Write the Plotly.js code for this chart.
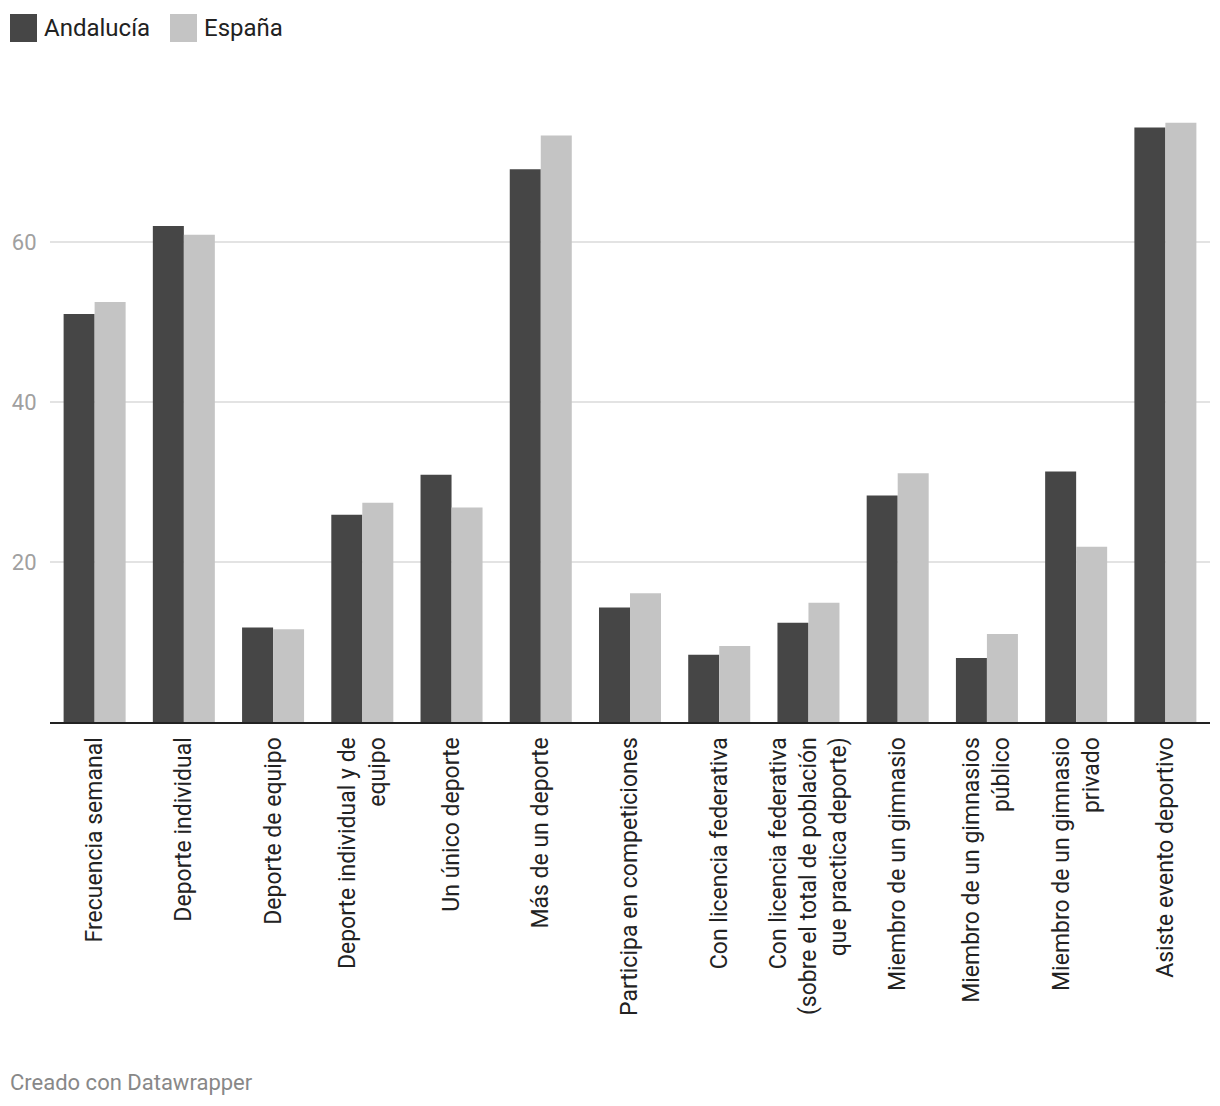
<!DOCTYPE html>
<html><head><meta charset="utf-8">
<script src="https://cdn.plot.ly/plotly-3.0.1.min.js"></script>
<style>html,body{margin:0;padding:0;background:#fff;}#chart{width:1220px;height:1106px;}</style>
</head><body><div id="chart"></div>
<script>
const categories = [
  "Frecuencia semanal",
  "Deporte individual",
  "Deporte de equipo",
  "Deporte individual y de<br>equipo",
  "Un único deporte",
  "Más de un deporte",
  "Participa en competiciones",
  "Con licencia federativa",
  "Con licencia federativa<br>(sobre el total de población<br>que practica deporte)",
  "Miembro de un gimnasio",
  "Miembro de un gimnasios<br>público",
  "Miembro de un gimnasio<br>privado",
  "Asiste evento deportivo"
];
const seriesNames = ["Andalucía", "España"];
const andalucia = [51.0, 62.0, 11.8, 25.9, 30.9, 69.1, 14.3, 8.4, 12.4, 28.3, 8.0, 31.3, 74.3];
const espana    = [52.5, 60.9, 11.6, 27.4, 26.8, 73.3, 16.1, 9.5, 14.9, 31.1, 11.0, 21.9, 74.9];
const yTicks = [20, 40, 60];
const colors = ["#464646", "#c4c4c4"];

const font = "Roboto, 'Noto Sans', sans-serif";
const traces = [andalucia, espana].map((vals, i) => ({
  type: "bar", x: categories, y: vals, name: seriesNames[i],
  marker: {color: colors[i]}, hoverinfo: "skip"
}));

const shapes = [], annotations = [];
const legendX = [10, 170];
seriesNames.forEach((n, i) => {
  shapes.push({type: "rect", xref: "paper", yref: "paper", layer: "above",
    x0: (legendX[i] - 50) / 1160, x1: (legendX[i] + 27 - 50) / 1160,
    y0: (722 - 42) / 640, y1: (722 - 14) / 640,
    fillcolor: colors[i], line: {width: 0}});
  annotations.push({xref: "paper", yref: "paper", x: (legendX[i] + 32 - 50) / 1160, y: (722 - 28) / 640,
    xanchor: "left", yanchor: "middle", showarrow: false, text: n,
    font: {family: font, size: 24, color: "#222"}});
});
annotations.push({xref: "paper", yref: "paper", x: (8 - 50) / 1160, y: (722 - 1082) / 640,
  xanchor: "left", yanchor: "middle", showarrow: false, text: "Creado con Datawrapper",
  font: {family: font, size: 22, color: "#888"}});

const layout = {
  width: 1220, height: 1106,
  margin: {l: 50, r: 10, t: 82, b: 384},
  paper_bgcolor: "#fff", plot_bgcolor: "#fff",
  barmode: "group", bargap: 0.305, bargroupgap: 0,
  showlegend: false,
  font: {family: font},
  xaxis: {
    type: "category", tickangle: -90, range: [-0.5, 12.5],
    showline: true, linecolor: "#222", linewidth: 2,
    ticks: "outside", ticklen: 4, tickcolor: "rgba(0,0,0,0)",
    tickfont: {family: font, size: 23, color: "#222"},
    showgrid: false, fixedrange: true
  },
  yaxis: {
    range: [0, 80], tickvals: yTicks, ticktext: yTicks.map(String),
    showgrid: true, gridcolor: "#e3e3e3", gridwidth: 2,
    zeroline: false, showline: false,
    ticks: "outside", ticklen: 8, tickcolor: "rgba(0,0,0,0)",
    tickfont: {family: font, size: 22, color: "#a0a0a0"}, fixedrange: true
  },
  shapes: shapes, annotations: annotations
};
Plotly.newPlot("chart", traces, layout, {displayModeBar: false, staticPlot: true});
</script></body></html>
